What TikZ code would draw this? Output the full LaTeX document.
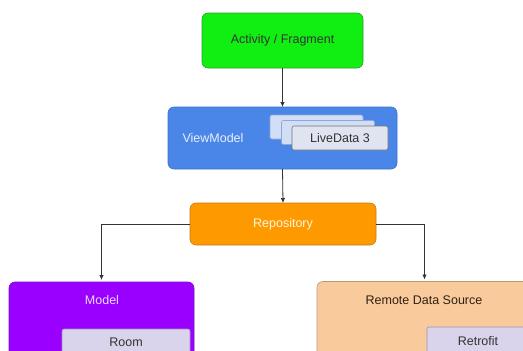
\documentclass[tikz,border=0pt]{standalone}
\usepackage{fontspec}
\setmainfont{Liberation Sans}
\usetikzlibrary{arrows.meta}
\definecolor{gfill}{HTML}{11EE11}
\definecolor{gline}{HTML}{2E9E2E}
\definecolor{bfill}{HTML}{4A86E8}
\definecolor{bline}{HTML}{3A6FC8}
\definecolor{ofill}{HTML}{FF9900}
\definecolor{oline}{HTML}{C47A10}
\definecolor{pfill}{HTML}{9900FF}
\definecolor{pline}{HTML}{7A10C8}
\definecolor{rfill}{HTML}{F9CB9C}
\definecolor{rline}{HTML}{B89A78}
\definecolor{ldfill}{HTML}{D2DEF6}
\definecolor{ldline}{HTML}{8FA8D8}
\definecolor{ldfront}{HTML}{E0E4F1}
\definecolor{lavfill}{HTML}{D9D4EC}
\definecolor{lavline}{HTML}{9890B0}
\definecolor{txtdark}{HTML}{333333}
\definecolor{txtlight}{HTML}{FFF6E0}
\tikzset{
  bigbox/.style={draw, line width=0.6pt, rounded corners=6pt, inner sep=0pt, outer sep=0pt,
    font=\fontsize{12.5}{14}\selectfont},
  smallbox/.style={draw, line width=0.6pt, rounded corners=2pt, inner sep=0pt, outer sep=0pt,
    font=\fontsize{12.5}{14}\selectfont, text=txtdark},
  lbl/.style={inner sep=0pt, font=\fontsize{12.5}{14}\selectfont},
  conn/.style={draw=black!80, line width=0.8pt, -{Latex[length=5pt,width=4.5pt]}}
}
\begin{document}
\begin{tikzpicture}[x=1pt,y=-1pt]
\useasboundingbox (0,0) rectangle (523,351);
\clip (0,0) rectangle (523,351);
\fill[white] (0,0) rectangle (523,351);
% boxes
\node[bigbox, fill=gfill, draw=gline, minimum width=161pt, minimum height=55pt, text=txtdark]
  (act) at (282.5,40.5) {Activity / Fragment};
\node[bigbox, fill=bfill, draw=bline, minimum width=229pt, minimum height=62pt]
  (vm) at (282.5,138) {};
\node[lbl, text=white!88!bfill] (vmt) at (213,138) {ViewModel};
\node[smallbox, fill=ldfill, draw=ldline, minimum width=93pt, minimum height=24pt]
  (ld1) at (316.5,127) {};
\node[smallbox, fill=ldfill, draw=ldline, minimum width=93pt, minimum height=24pt]
  (ld2) at (328,132.5) {};
\node[smallbox, fill=ldfront, draw=black!55, minimum width=96pt, minimum height=24pt]
  (ld3) at (340,138) {LiveData 3};
\node[bigbox, fill=ofill, draw=oline, minimum width=186pt, minimum height=42pt, text=txtlight]
  (repo) at (283,224) {Repository};
\node[bigbox, fill=pfill, draw=pline, minimum width=185pt, minimum height=98pt]
  (model) at (101.5,331) {};
\node[lbl, text=white!85!pfill] (modelt) at (102,300) {Model};
\node[bigbox, fill=rfill, draw=rline, minimum width=215pt, minimum height=99pt]
  (remote) at (424.5,331) {};
\node[lbl, text=black!75!brown] (remotet) at (424,300) {Remote Data Source};
\node[smallbox, fill=lavfill, draw=lavline, minimum width=128pt, minimum height=26pt]
  (room) at (126,342) {Room};
\node[smallbox, fill=lavfill, draw=lavline, minimum width=102pt, minimum height=28pt]
  (retro) at (478,341) {Retrofit};
% connectors
\draw[conn] (act.south) -- (vm.north);
\draw[conn] (vm.south) -- (repo.north);
\draw[conn] (repo.west) -| ([yshift=2pt]model.north);
\draw[conn] (repo.east) -| ([yshift=2pt]remote.north);
\end{tikzpicture}
\end{document}
